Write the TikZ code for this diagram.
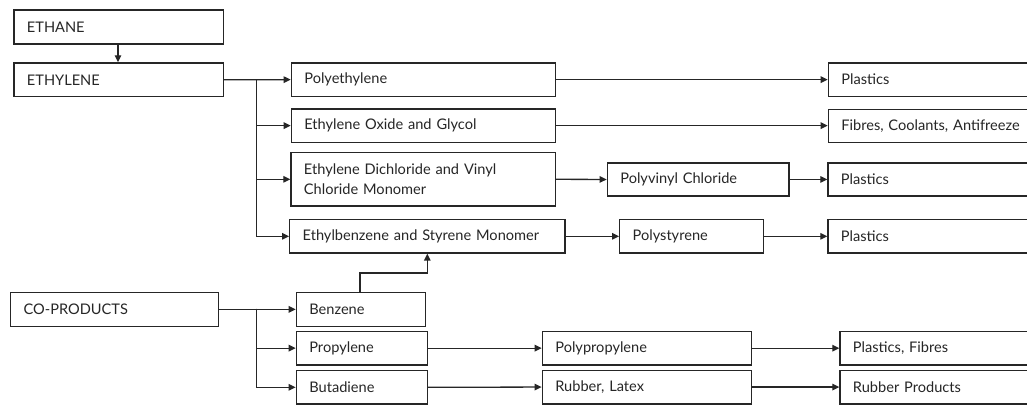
\documentclass[tikz,border=0pt]{standalone}
\usepackage{fontspec}
\setmainfont{Lato}
\usetikzlibrary{arrows.meta,calc}
\tikzset{
  box/.style={draw=black!85, line width=1.3pt, anchor=north west, inner xsep=13pt, inner ysep=0pt,
    align=left, font=\fontsize{14.6}{20}\selectfont, text=black!85},
  arr/.style={draw=black!85, line width=1.3pt, -{Triangle[length=7pt,width=6.5pt]}},
  ln/.style={draw=black!85, line width=1.3pt}
}
% \bx{name}{x1}{y1}{x2}{y2}{text}
\newcommand{\bx}[6]{%
  \pgfmathsetmacro{\bw}{#4-#2}\pgfmathsetmacro{\bh}{#5-#3}\pgfmathsetmacro{\tw}{#4-#2-26}%
  \node[box, minimum width=\bw pt, minimum height=\bh pt, text width=\tw pt] (#1) at (#2,#3) {#6};}
\begin{document}
\begin{tikzpicture}[x=1pt,y=-1pt]
\useasboundingbox (0,0) rectangle (1027,405);
\clip (0,0) rectangle (1027,405);
\fill[white] (0,0) rectangle (1027,405);
% boxes
\bx{ethane}{13.3}{9.3}{222.7}{43.3}{ETHANE}
\bx{ethylene}{13.3}{62.3}{222.7}{96}{ETHYLENE}
\bx{polyeth}{290.7}{62.3}{554.7}{95.7}{Polyethylene}
\bx{plastA}{827.7}{62.3}{1040}{95.7}{Plastics}
\bx{oxide}{290.7}{108.3}{554.7}{141.7}{Ethylene Oxide and Glycol}
\bx{fibres}{827.7}{108.5}{1040}{141.7}{Fibres, Coolants, Antifreeze}
\bx{dichlor}{290.3}{152}{554.7}{205.3}{Ethylene Dichloride and Vinyl\\Chloride Monomer}
\bx{pvc}{606.7}{162.3}{788.3}{195.3}{Polyvinyl Chloride}
\bx{plastB}{827.3}{162.3}{1040}{195.3}{Plastics}
\bx{ethylbz}{289}{219}{564.3}{252.3}{Ethylbenzene and Styrene Monomer}
\bx{polysty}{619}{219}{762.7}{252.3}{Polystyrene}
\bx{plastC}{827.3}{219}{1040}{252.3}{Plastics}
\bx{coprod}{10}{291.7}{218}{325.7}{CO-PRODUCTS}
\bx{benzene}{295.7}{291.7}{425}{325.7}{Benzene}
\bx{propylene}{295.7}{330.7}{426.7}{364.3}{Propylene}
\bx{butadiene}{295.7}{370}{426.7}{403.3}{Butadiene}
\bx{polyprop}{541.7}{330.7}{750.7}{364.3}{Polypropylene}
\bx{rubber}{541.7}{369.5}{750.7}{403.3}{Rubber, Latex}
\bx{plastfib}{839.3}{330.7}{1040}{364.3}{Plastics, Fibres}
\bx{rubprod}{839.3}{369.5}{1040}{403.3}{Rubber Products}
% trunk coordinates
\coordinate (etrunk) at (256.7,79);
\coordinate (ctrunk) at (256.7,308.7);
\coordinate (ethdown) at (118,0);
\coordinate (bzx) at (360,0);
\coordinate (bzturn) at (360,273);
\coordinate (bzin) at (427.3,273);
% connectors
\draw[arr] (ethane.south -| ethdown) -- (ethylene.north -| ethdown);
\draw[arr] (ethylene.east) -- (polyeth.west);
\draw[arr] (etrunk) |- (oxide.west);
\draw[arr] (etrunk) |- (dichlor.west);
\draw[arr] (etrunk) |- (ethylbz.west);
\draw[arr] (polyeth.east) -- (plastA.west |- polyeth.east);
\draw[arr] (oxide.east) -- (fibres.west |- oxide.east);
\draw[arr] (dichlor.east) -- (pvc.west);
\draw[arr] (pvc.east) -- (plastB.west |- pvc.east);
\draw[arr] (ethylbz.east) -- (polysty.west);
\draw[arr] (polysty.east) -- (plastC.west |- polysty.east);
\draw[arr] (benzene.north -| bzx) -- (bzturn) -- (bzin) -- (ethylbz.south -| bzin);
\draw[arr] (coprod.east) -- (benzene.west);
\draw[arr] (ctrunk) |- (propylene.west);
\draw[arr] (ctrunk) |- (butadiene.west);
\draw[arr] (propylene.east) -- (polyprop.west);
\draw[arr] (butadiene.east) -- (rubber.west);
\draw[arr] (polyprop.east) -- (plastfib.west |- polyprop.east);
\draw[arr] (rubber.east) -- (rubprod.west |- rubber.east);
\end{tikzpicture}
\end{document}
